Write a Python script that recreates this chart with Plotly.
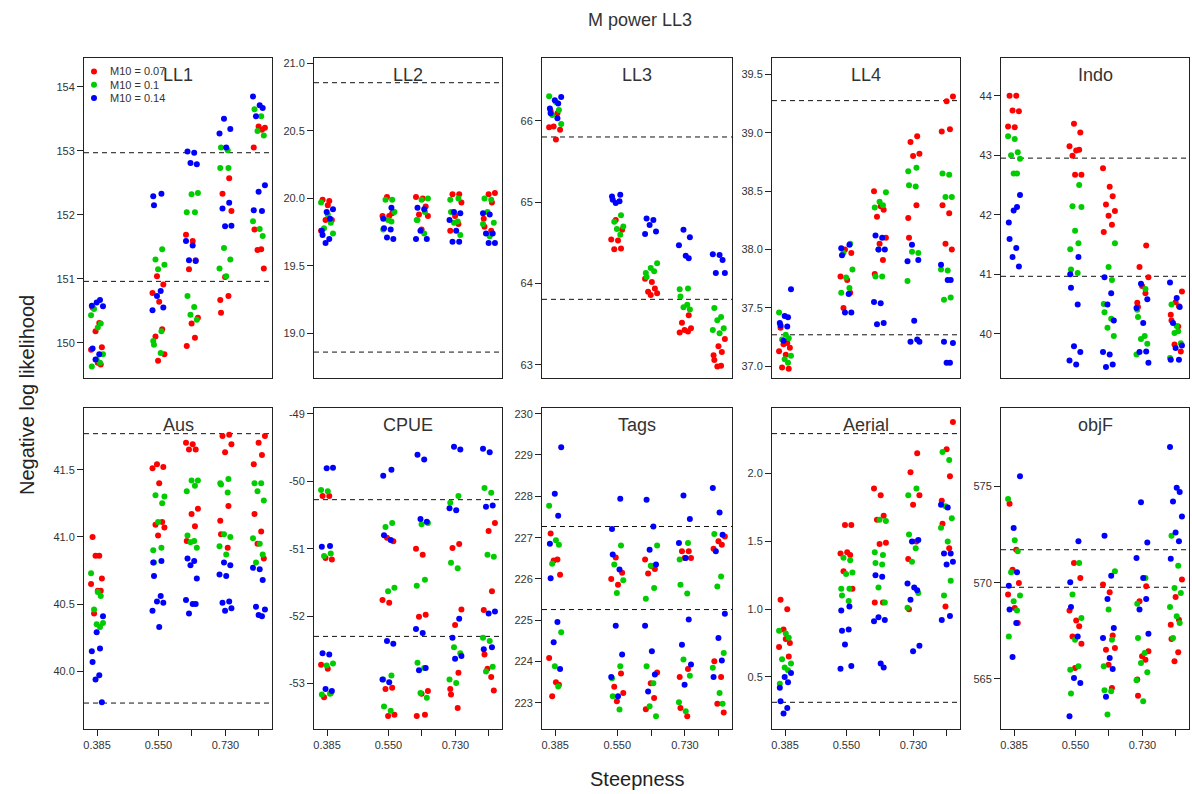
import plotly.graph_objects as go
from plotly.subplots import make_subplots

# ---------------- data ----------------
STEEP = [0.385, 0.55, 0.64, 0.73, 0.82]
XTICK_TEXT = ["0.385", "0.550", "", "0.730", ""]
M10_LABELS = ["M10 = 0.07", "M10 = 0.1", "M10 = 0.14"]
PANEL_NAMES = ["LL1", "LL2", "LL3", "LL4", "Indo", "Aus", "CPUE", "Tags", "Aerial", "objF"]

LL1_R = [[150.55, 150.31, 150.18, 149.93, 149.89, 149.69, 149.66],
         [151.04, 150.91, 150.78, 150.64, 150.21, 150.10, 149.82, 149.72],
         [151.69, 151.59, 151.29, 151.15, 150.39, 150.30, 150.08, 149.95],
         [152.57, 152.33, 152.06, 151.03, 150.73, 150.67, 150.47],
         [153.36, 153.38, 153.33, 153.05, 151.77, 151.46, 151.45, 151.16]]
LL1_G = [[150.43, 150.24, 150.30, 150.53, 149.82, 149.74, 149.69, 149.63],
         [151.46, 151.30, 151.22, 151.15, 150.18, 150.03, 149.97, 149.84],
         [152.34, 152.32, 152.04, 152.04, 150.73, 150.56, 150.44, 150.36],
         [152.73, 152.73, 153.05, 153.01, 151.48, 151.30, 151.16, 151.04],
         [153.65, 153.54, 153.31, 153.24, 151.90, 151.78, 151.67]]
LL1_B = [[150.57, 150.63, 150.67, 150.58, 149.91, 149.82, 149.74],
         [152.33, 152.29, 152.15, 150.81, 150.73, 150.55, 150.51],
         [152.99, 152.97, 152.81, 152.79, 151.59, 151.52, 151.28, 151.29],
         [153.50, 153.34, 153.27, 153.05, 152.19, 152.10, 151.83, 151.82],
         [153.85, 153.71, 153.67, 153.54, 152.46, 152.36, 152.06, 152.07]]

LL2_R = [[19.99, 19.98, 19.84, 19.84, 19.76, 19.95],
         [20.01, 19.90, 19.87, 19.87, 19.89],
         [20.01, 20.00, 19.94, 19.88, 19.87, 19.77],
         [20.03, 20.03, 19.97, 19.87, 19.81, 19.76],
         [20.04, 20.03, 19.97, 19.85, 19.79, 19.76]]
LL2_G = [[19.97, 19.88, 19.82, 19.78, 19.74],
         [19.99, 19.99, 19.90, 19.84, 19.83, 19.77],
         [20.00, 19.99, 19.90, 19.84, 19.84, 19.74],
         [20.00, 19.99, 19.90, 19.83, 19.82, 19.73],
         [20.00, 19.99, 19.90, 19.82, 19.81, 19.72]]
LL2_B = [[19.92, 19.90, 19.85, 19.76, 19.73, 19.70, 19.67],
         [19.93, 19.85, 19.78, 19.77, 19.71, 19.70],
         [19.93, 19.92, 19.76, 19.70, 19.70],
         [19.90, 19.89, 19.84, 19.76, 19.68, 19.68],
         [19.89, 19.88, 19.74, 19.74, 19.67, 19.67]]

LL3_R = [[66.12, 66.09, 65.93, 65.89, 65.92, 65.77],
         [64.78, 64.66, 64.54, 64.53, 64.43, 64.42],
         [64.06, 64.02, 63.94, 63.90, 63.88, 63.86],
         [63.61, 63.52, 63.45, 63.43, 63.41, 63.40],
         [63.32, 63.23, 63.16, 63.12, 63.06, 62.99, 62.98]]
LL3_G = [[66.30, 66.23, 66.13, 66.07, 65.96],
         [64.84, 64.76, 64.70, 64.67, 64.60],
         [64.25, 64.19, 64.15, 64.13, 64.08],
         [63.94, 63.93, 63.84, 63.74, 63.71, 63.68],
         [63.70, 63.59, 63.55, 63.45, 63.43, 63.39]]
LL3_B = [[66.29, 66.25, 66.21, 66.15, 66.09, 66.03],
         [65.09, 65.07, 65.03, 65.01, 64.99],
         [64.80, 64.78, 64.72, 64.64, 64.61],
         [64.66, 64.57, 64.47, 64.34, 64.31],
         [64.36, 64.35, 64.29, 64.13, 64.13]]

LL4_R = [[37.33, 37.20, 37.19, 37.16, 37.13, 37.10, 36.98, 36.99],
         [38.00, 37.97, 37.77, 37.74, 37.63, 37.50],
         [38.50, 38.37, 38.34, 38.28, 38.10, 38.05, 37.91, 37.79],
         [38.97, 38.92, 38.82, 38.80, 38.38, 38.27, 38.10],
         [39.31, 39.27, 39.03, 39.01, 38.38, 38.31, 38.05, 38.00]]
LL4_G = [[37.46, 37.27, 37.24, 37.23, 37.09, 37.06, 37.03],
         [38.05, 37.97, 37.83, 37.76, 37.67, 37.63],
         [38.49, 38.41, 38.38, 38.36, 37.77, 37.77, 38.00],
         [38.70, 38.67, 38.55, 38.54, 37.98, 37.97, 37.73],
         [38.65, 38.64, 38.45, 38.45, 37.83, 37.82, 37.59, 37.57]]
LL4_B = [[37.66, 37.43, 37.42, 37.37, 37.35, 37.34, 37.22],
         [38.04, 38.01, 37.95, 37.62, 37.46, 37.46],
         [38.12, 38.10, 38.00, 38.00, 37.55, 37.54, 37.37, 37.36],
         [38.04, 37.91, 37.90, 37.39, 37.23, 37.21, 37.21],
         [37.87, 37.74, 37.74, 37.21, 37.20, 37.03, 37.03]]

INDO_R = [[44.00, 44.00, 43.75, 43.74, 43.48, 43.47],
          [43.53, 43.38, 43.15, 43.08, 43.09, 42.99, 42.67, 42.67],
          [42.78, 42.47, 42.31, 42.17, 42.06, 41.98, 41.83, 41.71],
          [41.48, 41.12, 40.95, 40.80, 40.68, 40.52, 40.45],
          [40.71, 40.53, 40.46, 40.32, 40.22, 40.12, 39.82, 39.70]]
INDO_G = [[43.32, 43.27, 43.05, 43.00, 42.94, 42.69, 42.69],
          [42.50, 42.14, 42.13, 41.73, 41.52, 41.42, 41.08, 41.02],
          [41.52, 41.12, 40.90, 40.50, 40.36, 40.25, 40.10, 39.96],
          [40.75, 40.40, 40.28, 39.96, 39.91, 39.83, 39.65],
          [40.49, 40.04, 40.01, 39.84, 39.59, 40.13]]
INDO_B = [[42.33, 42.07, 42.13, 41.87, 41.59, 41.44, 41.29, 41.13],
          [41.29, 41.00, 40.77, 40.49, 39.79, 39.69, 39.55, 39.48],
          [40.95, 40.68, 40.49, 40.22, 39.69, 39.65, 39.48, 39.44],
          [40.84, 40.58, 40.43, 40.18, 39.70, 39.69, 39.51],
          [40.86, 40.60, 40.45, 40.18, 39.80, 39.76, 39.56, 39.56]]

AUS_R = [[41.00, 40.86, 40.86, 40.69, 40.65, 40.60, 40.60, 40.43],
         [41.54, 41.52, 41.51, 41.40, 41.11, 41.09, 41.07, 41.01],
         [41.70, 41.69, 41.65, 41.65, 41.21, 41.17, 41.08, 40.97],
         [41.76, 41.75, 41.69, 41.63, 41.23, 41.12, 41.02, 40.92],
         [41.75, 41.70, 41.61, 41.54, 41.17, 41.04, 40.95, 40.84]]
AUS_G = [[40.73, 40.59, 40.56, 40.46, 40.36, 40.35, 40.33],
         [41.25, 41.31, 41.30, 41.11, 40.92, 40.90, 40.81],
         [41.42, 41.42, 41.38, 41.34, 41.01, 40.97, 40.96, 40.92],
         [41.43, 41.40, 41.39, 41.33, 41.02, 41.00, 40.93, 40.87],
         [41.40, 41.40, 41.34, 41.27, 40.99, 40.95, 40.87, 40.81]]
AUS_B = [[40.41, 40.29, 40.17, 40.15, 40.07, 39.97, 39.94, 39.77],
         [40.82, 40.81, 40.71, 40.56, 40.52, 40.51, 40.45, 40.33],
         [40.84, 40.82, 40.79, 40.69, 40.53, 40.50, 40.50, 40.43],
         [40.81, 40.79, 40.72, 40.71, 40.52, 40.51, 40.47, 40.45],
         [40.77, 40.76, 40.68, 40.48, 40.46, 40.42, 40.41]]

CPUE_R = [[-50.22, -50.22, -51.14, -51.16, -52.72, -52.78, -53.14, -53.20],
          [-50.84, -50.89, -51.76, -51.80, -53.06, -53.08, -53.46, -53.48],
          [-51.00, -51.09, -51.98, -52.01, -53.11, -53.15, -53.46, -53.48],
          [-50.93, -50.99, -51.90, -52.13, -52.84, -53.08, -53.16, -53.36],
          [-50.62, -50.74, -51.63, -51.91, -52.57, -52.90, -52.78, -53.10]]
CPUE_G = [[-50.13, -50.15, -51.07, -51.11, -52.70, -52.73, -53.15, -53.16],
          [-50.62, -50.68, -51.58, -51.63, -52.88, -52.94, -53.34, -53.40],
          [-50.62, -50.64, -51.46, -51.55, -52.69, -52.77, -53.14, -53.21],
          [-50.22, -50.32, -51.21, -51.29, -52.46, -52.55, -52.94, -52.99],
          [-50.10, -50.17, -51.09, -51.12, -52.32, -52.37, -52.75, -52.82]]
CPUE_B = [[-49.80, -49.81, -50.96, -50.97, -52.55, -52.57, -53.08, -53.11],
          [-49.83, -49.92, -50.80, -50.87, -52.37, -52.41, -52.94, -52.98],
          [-49.61, -49.68, -50.56, -50.60, -52.19, -52.25, -52.77, -52.80],
          [-49.49, -49.53, -50.40, -50.43, -52.04, -52.32, -52.59, -52.63],
          [-49.52, -49.57, -50.36, -50.38, -51.93, -51.96, -52.46, -52.49]]

TAGS_R = [[227.10, 226.47, 226.45, 226.10, 224.09, 223.50, 223.44, 223.16],
          [226.52, 226.15, 226.00, 225.86, 223.71, 223.39, 223.24, 223.04],
          [226.47, 226.31, 226.24, 226.13, 223.74, 223.48, 223.12, 222.85],
          [226.67, 226.67, 226.51, 226.51, 223.82, 223.63, 222.88, 222.68],
          [227.03, 226.91, 226.83, 226.73, 224.01, 223.63, 222.98, 222.77]]
TAGS_G = [[227.77, 226.94, 226.83, 226.37, 224.71, 223.89, 223.40],
          [226.81, 226.35, 225.97, 225.66, 223.89, 223.60, 223.16, 222.84],
          [226.81, 226.32, 225.78, 225.52, 223.89, 223.48, 222.92, 222.68],
          [226.87, 226.47, 225.86, 225.65, 224.05, 223.66, 223.02, 222.80],
          [227.09, 226.06, 225.82, 224.21, 223.85, 223.24, 222.98]]
TAGS_B = [[229.19, 228.06, 227.53, 226.85, 226.02, 224.96, 224.47, 223.82],
          [227.94, 227.21, 226.59, 226.23, 224.87, 224.17, 223.63, 223.16],
          [227.92, 227.27, 226.71, 226.35, 224.87, 224.25, 223.69, 223.28],
          [228.02, 227.45, 226.87, 226.51, 225.02, 224.41, 223.93, 223.44],
          [228.20, 227.61, 227.07, 226.67, 225.16, 224.57, 224.03, 223.63]]

AERIAL_R = [[1.07, 1.00, 0.85, 0.75, 0.72, 0.78, 0.65],
            [1.62, 1.62, 1.41, 1.42, 1.40, 1.28, 1.15],
            [1.89, 1.84, 1.69, 1.66, 1.49, 1.48, 1.05, 1.05],
            [2.15, 2.01, 1.84, 1.77, 1.50, 1.37, 1.00],
            [2.38, 2.18, 1.98, 1.80, 1.63, 1.45, 1.02]]
AERIAL_G = [[0.84, 0.82, 0.79, 0.63, 0.60, 0.57, 0.55, 0.45],
            [1.36, 1.38, 1.27, 1.26, 1.15, 1.15, 1.10, 1.06],
            [1.65, 1.66, 1.40, 1.42, 1.34, 1.33, 1.16, 1.05],
            [1.89, 1.84, 1.55, 1.45, 1.35, 1.12, 1.01],
            [2.16, 2.10, 1.76, 1.67, 1.60, 1.50, 1.21, 1.10]]
AERIAL_B = [[0.53, 0.50, 0.46, 0.42, 0.32, 0.27, 0.23],
            [1.02, 0.99, 0.84, 0.85, 0.74, 0.58, 0.56],
            [1.25, 1.24, 0.94, 0.92, 0.91, 0.60, 0.57],
            [1.50, 1.51, 1.19, 1.16, 1.14, 1.07, 0.73, 0.69],
            [1.77, 1.75, 1.41, 1.41, 1.35, 1.33, 0.95, 0.92]]

OBJF_R = [[574.10, 571.71, 570.67, 569.98, 569.38, 568.69, 567.91],
          [571.02, 570.24, 568.56, 568.04, 567.73, 567.21, 566.83, 565.57],
          [569.90, 569.50, 567.25, 566.52, 566.61, 565.74, 564.53],
          [569.81, 569.03, 566.44, 566.18, 566.00, 564.97, 564.13],
          [570.16, 569.26, 568.08, 567.82, 567.08, 566.38, 565.92]]
OBJF_G = [[574.34, 572.20, 571.63, 570.54, 569.33, 569.03, 568.56, 567.21],
          [571.02, 569.38, 568.17, 567.04, 565.66, 565.48, 564.24],
          [570.59, 568.60, 567.04, 565.66, 564.41, 564.36, 563.15],
          [570.24, 568.91, 567.13, 566.35, 565.83, 565.35, 564.93, 563.84],
          [572.44, 570.88, 569.72, 569.46, 568.74, 568.25, 567.91, 567.13]]
OBJF_B = [[575.52, 572.84, 570.54, 569.84, 568.60, 567.91, 566.14],
          [572.15, 570.02, 568.74, 567.21, 565.05, 564.79, 563.06],
          [572.44, 570.36, 569.15, 567.65, 567.13, 566.09, 565.52, 564.07],
          [574.17, 572.09, 571.28, 570.24, 569.15, 568.60, 567.35],
          [577.04, 574.93, 574.71, 574.22, 573.44, 572.61, 572.15, 571.24]]

REF_LINES = [[152.97, 150.96], [20.857, 18.862], [65.80, 63.806], [39.275, 37.27],
             [42.95, 40.964], [41.768, 39.764], [-50.274, -52.30], [227.27, 225.26],
             [2.295, 0.313], [571.71, 569.76]]

YTICKS = [[150, 151, 152, 153, 154],
          [19.0, 19.5, 20.0, 20.5, 21.0],
          [63, 64, 65, 66],
          [37.0, 37.5, 38.0, 38.5, 39.0, 39.5],
          [40, 41, 42, 43, 44],
          [40.0, 40.5, 41.0, 41.5],
          [-53, -52, -51, -50, -49],
          [223, 224, 225, 226, 227, 228, 229, 230],
          [0.5, 1.0, 1.5, 2.0],
          [565, 570, 575]]
YTICK_TEXT = [["150", "151", "152", "153", "154"],
              ["19.0", "19.5", "20.0", "20.5", "21.0"],
              ["63", "64", "65", "66"],
              ["37.0", "37.5", "38.0", "38.5", "39.0", "39.5"],
              ["40", "41", "42", "43", "44"],
              ["40.0", "40.5", "41.0", "41.5"],
              ["-53", "-52", "-51", "-50", "-49"],
              ["223", "224", "225", "226", "227", "228", "229", "230"],
              ["0.5", "1.0", "1.5", "2.0"],
              ["565", "570", "575"]]

SERIES = [(LL1_R, LL1_G, LL1_B), (LL2_R, LL2_G, LL2_B), (LL3_R, LL3_G, LL3_B),
          (LL4_R, LL4_G, LL4_B), (INDO_R, INDO_G, INDO_B), (AUS_R, AUS_G, AUS_B),
          (CPUE_R, CPUE_G, CPUE_B), (TAGS_R, TAGS_G, TAGS_B),
          (AERIAL_R, AERIAL_G, AERIAL_B), (OBJF_R, OBJF_G, OBJF_B)]

# ---------------- style / layout ----------------
W, H = 1192, 794
COLORS = ["#FF0000", "#00CD00", "#0000FF"]
FONT = "Liberation Sans, Arial, sans-serif"
JITTER = [-0.012, 0.006, -0.004, 0.013, -0.016, 0.002, 0.010, -0.008, 0.016, -0.001, 0.008, -0.014]
Y_RANGES = [[149.45, 154.45], [18.67, 21.04], [62.84, 66.77], [36.90, 39.64],
            [39.255, 44.633], [39.571, 41.959], [-53.672, -48.916], [222.37, 230.137],
            [0.116, 2.484], [562.40, 579.07]]
X_RANGE = [0.350, 0.855]
COL_PX = [(84, 272), (314, 502), (542, 732), (772, 960), (1001, 1189)]
ROW_PX = [(58, 378), (408, 729)]

fig = make_subplots(rows=2, cols=5)

for p in range(10):
    r, c = divmod(p, 5)
    for ci in range(3):
        groups = SERIES[p][ci]
        xs, ys = [], []
        for g, vals in enumerate(groups):
            for i, v in enumerate(vals):
                xs.append(STEEP[g] + JITTER[(i + 4 * ci + 2 * g) % len(JITTER)])
                ys.append(v)
        fig.add_trace(go.Scatter(x=xs, y=ys, mode="markers", showlegend=False,
                                 marker=dict(color=COLORS[ci], size=6, line=dict(width=0)),
                                 hoverinfo="x+y"), row=r + 1, col=c + 1)

    n = p + 1
    xa = "xaxis" if n == 1 else f"xaxis{n}"
    ya = "yaxis" if n == 1 else f"yaxis{n}"
    x0px, x1px = COL_PX[c]
    y0px, y1px = ROW_PX[r]
    xdom = [x0px / W, x1px / W]
    ydom = [1 - y1px / H, 1 - y0px / H]
    axcommon = dict(showline=True, mirror=True, linecolor="#222", linewidth=1,
                    showgrid=False, zeroline=False,
                    tickfont=dict(family=FONT, size=11, color="#333"))
    xcfg = dict(axcommon, domain=xdom, range=X_RANGE)
    if r == 1:
        xcfg.update(tickmode="array", tickvals=STEEP, ticktext=XTICK_TEXT,
                    ticks="outside", ticklen=6, tickcolor="#222")
    else:
        xcfg.update(showticklabels=False, ticks="")
    fig.layout[xa].update(xcfg)
    fig.layout[ya].update(dict(axcommon, domain=ydom, range=Y_RANGES[p],
                               tickmode="array", tickvals=YTICKS[p], ticktext=YTICK_TEXT[p],
                               ticks="outside", ticklen=6, tickcolor="#222"))

    xref = "x" if n == 1 else f"x{n}"
    yref = "y" if n == 1 else f"y{n}"
    for ref in REF_LINES[p]:
        fig.add_shape(type="line", xref=f"{xref} domain", yref=yref, x0=0, x1=1, y0=ref, y1=ref,
                      line=dict(color="#111", width=1, dash="5px,4px"), layer="below")

    fig.add_annotation(x=(xdom[0] + xdom[1]) / 2, y=1 - (y0px + 17) / H, xref="paper", yref="paper",
                       text=PANEL_NAMES[p], showarrow=False, xanchor="center", yanchor="middle",
                       font=dict(family=FONT, size=18, color="#333"))

# legend inside first panel
for k in range(3):
    ypx = 71.5 + 13.2 * k
    fig.add_shape(type="circle", xref="paper", yref="paper",
                  x0=(94 - 3) / W, x1=(94 + 3) / W, y0=1 - (ypx + 3) / H, y1=1 - (ypx - 3) / H,
                  fillcolor=COLORS[k], line=dict(width=0))
    fig.add_annotation(x=108 / W, y=1 - ypx / H, xref="paper", yref="paper", text=M10_LABELS[k],
                       showarrow=False, xanchor="left", yanchor="middle",
                       font=dict(family=FONT, size=11, color="#333"))

fig.add_annotation(x=640 / W, y=1 - 20 / H, xref="paper", yref="paper", text="M power LL3",
                   showarrow=False, xanchor="center", yanchor="middle",
                   font=dict(family=FONT, size=18, color="#333"))
fig.add_annotation(x=637 / W, y=1 - 779 / H, xref="paper", yref="paper", text="Steepness",
                   showarrow=False, xanchor="center", yanchor="middle",
                   font=dict(family=FONT, size=20, color="#222"))
fig.add_annotation(x=27 / W, y=1 - 395 / H, xref="paper", yref="paper",
                   text="Negative log likelihood", textangle=-90,
                   showarrow=False, xanchor="center", yanchor="middle",
                   font=dict(family=FONT, size=20, color="#222"))

fig.update_layout(width=W, height=H, margin=dict(l=0, r=0, t=0, b=0),
                  paper_bgcolor="white", plot_bgcolor="white", showlegend=False)

fig.write_html("out.html")
